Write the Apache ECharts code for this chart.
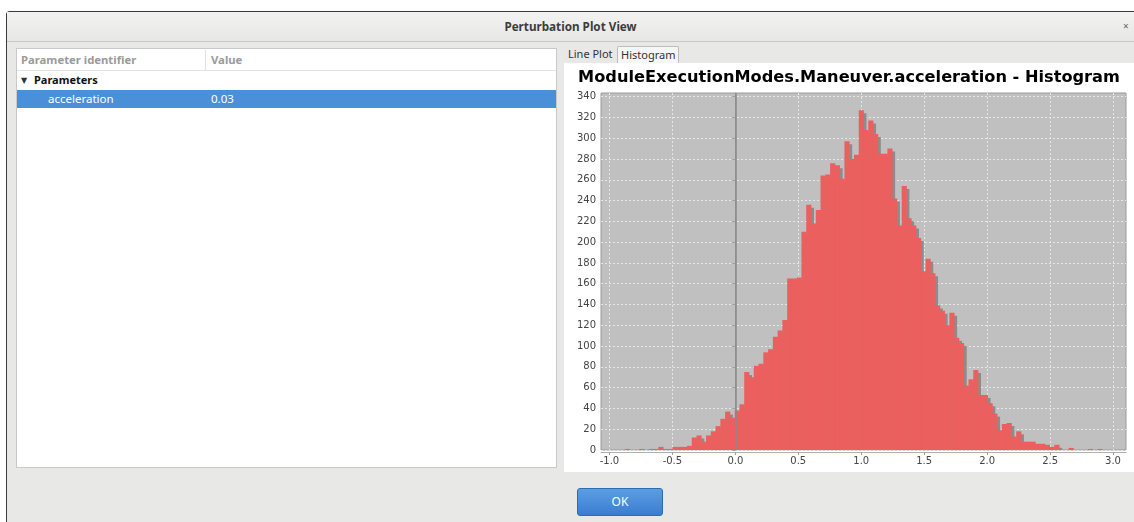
<!DOCTYPE html>
<html>
<head>
<meta charset="utf-8">
<title>Perturbation Plot View</title>
<script src="https://cdn.jsdelivr.net/npm/echarts@6/dist/echarts.min.js"></script>
<style>
  html, body { margin: 0; padding: 0; width: 1134px; height: 522px; overflow: hidden; background: #fff; font-family: "Noto Sans", "DejaVu Sans", sans-serif; }
  .abs { position: absolute; }
  #dialog { left: 6px; top: 11px; width: 1140px; height: 515px; background: #e8e8e7; border-left: 1px solid #3a3a3a; border-top: 1px solid #3a3a3a; border-top-left-radius: 4px; }
  #titlebar { left: 7px; top: 12px; width: 1127px; height: 29px; background: linear-gradient(#f2f2f1, #e7e7e6); border-bottom: 1px solid #c8c8c8; }
  #titletext { left: 7px; top: 12px; width: 1127px; height: 29px; line-height: 29px; text-align: center; font-weight: bold; font-size: 11.7px; color: #3c3c3c; }
  #close { left: 1123px; top: 12px; height: 29px; line-height: 29px; font-size: 10px; color: #666; }
  #table { left: 16px; top: 48px; width: 539px; height: 418px; background: #fff; border: 1px solid #c9c9c9; }
  #thead { left: 17px; top: 49px; width: 539px; height: 21px; border-bottom: 1px solid #e2e2e2; }
  .th { font-size: 11.3px; font-weight: bold; color: #9a9a9a; line-height: 21px; }
  #coldiv { left: 205px; top: 50px; width: 1px; height: 20px; background: #e2e2e2; }
  .row { font-size: 11.5px; line-height: 18px; }
  #selrow { left: 17px; top: 90px; width: 539px; height: 18px; background: #4a90d9; }
  .tab { top: 46px; height: 16px; line-height: 16px; font-size: 11px; color: #333; padding: 0 3px; }
  #tabsel { background: #f6f6f6; border: 1px solid #bdbdbd; border-bottom: none; border-radius: 2px 2px 0 0; }
  #chart { left: 564px; top: 63px; width: 570px; height: 409px; background: #fff; }
  #ok { left: 577px; top: 488px; width: 84px; height: 26px; border: 1px solid #2f6bb3; border-radius: 3px; background: linear-gradient(#5c9ee3, #3a7dd0); color: #fff; font-size: 12px; line-height: 26px; text-align: center; }
</style>
</head>
<body>
<div id="dialog" class="abs"></div>
<div id="titlebar" class="abs"></div>
<div id="titletext" class="abs">Perturbation Plot View</div>
<div id="close" class="abs">×</div>

<div id="table" class="abs"></div>
<div id="thead" class="abs"></div>
<div class="abs th" style="left:21px; top:49px;">Parameter identifier</div>
<div class="abs th" style="left:211px; top:49px;">Value</div>
<div id="coldiv" class="abs"></div>
<div class="abs row" style="left:21px; top:71px; font-size:8px; color:#333;">&#9660;</div>
<div class="abs row" style="left:34px; top:71px; font-weight:bold; font-size:11px; color:#111;">Parameters</div>
<div id="selrow" class="abs"></div>
<div class="abs row" style="left:48px; top:90px; color:#fff;">acceleration</div>
<div class="abs row" style="left:211px; top:90px; color:#fff;">0.03</div>

<div class="abs tab" style="left:565px;">Line Plot</div>
<div id="tabsel" class="abs tab" style="left:617px;">Histogram</div>

<div id="chart" class="abs"></div>
<div id="ok" class="abs">OK</div>

<script>
// histogram bins (100 equal-width bins)
const binStart = -0.877
const binWidth = 0.0379
const counts = [
  1, 0, 0, 1, 0, 1, 1, 3, 1, 1,
  3, 3, 3, 4, 12, 14, 8, 14, 18, 23,
  30, 37, 31, 38, 44, 75, 70, 81, 83, 94,
  97, 109, 115, 125, 165, 165, 166, 210, 236, 218,
  231, 264, 265, 276, 274, 261, 297, 280, 284, 327,
  308, 317, 304, 285, 285, 290, 242, 216, 254, 223,
  216, 204, 172, 184, 170, 139, 134, 120, 132, 108,
  103, 62, 68, 77, 53, 53, 45, 35, 19, 25,
  26, 13, 18, 8, 8, 8, 6, 6, 5, 3,
  5, 0, 0, 2, 0, 0, 0, 1, 0, 1
]
const xTicks = [-1.0, -0.5, 0.0, 0.5, 1.0, 1.5, 2.0, 2.5, 3.0]
const yTicks = [0, 20, 40, 60, 80, 100, 120, 140, 160, 180, 200, 220, 240, 260, 280, 300, 320, 340]
const xRange = [-1.067, 3.103]
const yRange = [0, 343.5]

const BAR_COLOR = '#ec5f5f'
const SHADOW_COLOR = '#8c8c8c'
const SHADOW_OFF = 3

const binData = counts.map((c, i) => [binStart + i * binWidth, binStart + (i + 1) * binWidth, c])

const chart = echarts.init(document.getElementById('chart'), null, { renderer: 'canvas' })
chart.setOption({
  animation: false,
  title: {
    text: 'ModuleExecutionModes.Maneuver.acceleration - Histogram',
    left: 280,
    textAlign: 'center',
    top: 2,
    textStyle: {
      fontFamily: 'DejaVu Sans',
      fontWeight: 'bold',
      fontSize: 16.2,
      color: '#000'
    }
  },
  grid: {
    left: 37,
    top: 30,
    width: 525,
    height: 357,
    show: true,
    backgroundColor: '#c0c0c0',
    borderColor: '#9a9a9a',
    borderWidth: 1
  },
  xAxis: {
    type: 'value',
    min: xRange[0],
    max: xRange[1],
    offset: 2,
    axisLine: { show: true, onZero: false, lineStyle: { color: '#b0b0b0', width: 1 } },
    axisTick: { show: true, length: 3, customValues: xTicks, lineStyle: { color: '#a0a0a0' } },
    axisLabel: {
      customValues: xTicks,
      margin: 4,
      fontFamily: 'DejaVu Sans',
      fontSize: 10,
      color: '#444',
      formatter: v => v.toFixed(1)
    },
    splitLine: { show: true, lineStyle: { color: '#e6e6e6', type: [2, 2], width: 1 } }
  },
  yAxis: {
    type: 'value',
    min: yRange[0],
    max: yRange[1],
    offset: 1,
    axisLine: { show: true, lineStyle: { color: '#a0a0a0', width: 1 } },
    axisTick: { show: true, length: 3, customValues: yTicks, lineStyle: { color: '#a0a0a0' } },
    axisLabel: {
      customValues: yTicks,
      margin: 4,
      fontFamily: 'DejaVu Sans',
      fontSize: 10,
      color: '#444'
    },
    splitLine: { show: true, lineStyle: { color: '#e6e6e6', type: [2, 2], width: 1 } }
  },
  series: [
    {
      // zero marker on the domain axis
      type: 'line',
      data: [],
      z: 1,
      silent: true,
      markLine: {
        silent: true,
        symbol: 'none',
        label: { show: false },
        lineStyle: { color: '#8a8a8a', type: 'solid', width: 1.5 },
        data: [{ xAxis: 0 }]
      }
    },
    {
      type: 'custom',
      z: 2,
      encode: { x: [0, 1], y: 2 },
      data: binData,
      renderItem: function (params, api) {
        const topLeft = api.coord([api.value(0), api.value(2)])
        const bottomRight = api.coord([api.value(1), 0])
        const w = bottomRight[0] - topLeft[0]
        const h = bottomRight[1] - topLeft[1]
        if (h <= 0) return null
        return {
          type: 'group',
          children: [
            {
              type: 'rect',
              z2: 1,
              shape: { x: topLeft[0] + SHADOW_OFF, y: topLeft[1] + SHADOW_OFF, width: w, height: Math.max(0, h - SHADOW_OFF) },
              style: { fill: SHADOW_COLOR }
            },
            {
              type: 'rect',
              z2: 2,
              shape: { x: topLeft[0], y: topLeft[1], width: w + 0.4, height: h },
              style: { fill: BAR_COLOR }
            }
          ]
        }
      }
    }
  ]
})
</script>
</body>
</html>
